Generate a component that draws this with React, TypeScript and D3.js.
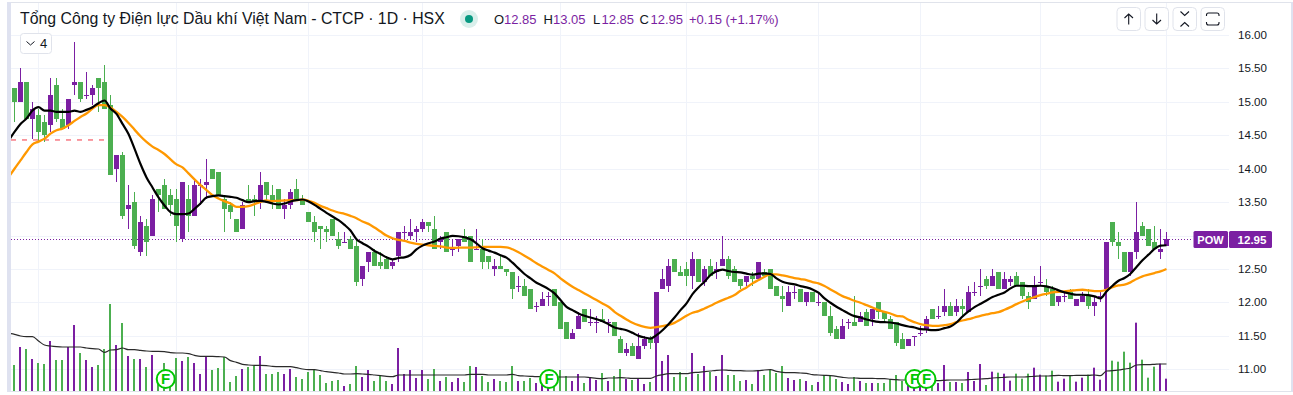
import React from "react";
import * as d3 from "d3";

const titleText = "Tổng Công ty Điện lực Dầu khí Việt Nam - CTCP · 1D · HSX";
const priceTicks = ["16.00","15.50","15.00","14.50","14.00","13.50","12.50","12.00","11.50","11.00"];
const gridPrices = [16,15.5,15,14.5,14,13.5,13,12.5,12,11.5,11];
const gridTimes = [38,176,308,422,560,686,818,920,1040,1166];
const lastPrice = 12.95;
const lastPriceLabel = "12.95";
const symbol = "POW";
const limitPrice = 14.43;
const dividendBars = [25.2,89.1,150,152];
const greenVolumeBars = [186];

const opens = [15.2,15.0,15.3,14.75,14.8,14.7,14.65,15.25,14.75,14.65,
15.25,15.3,15.1,15.1,15.35,15.3,14.95,14.0,14.2,13.4,
13.5,12.75,13.15,13.0,13.7,13.75,13.6,13.55,12.95,13.55,
13.3,13.75,13.75,14.0,13.95,13.55,13.45,13.25,13.1,13.55,
13.55,13.5,13.8,13.6,13.7,13.4,13.45,13.7,13.55,13.35,
13.2,13.15,13.1,13.25,12.95,12.9,12.95,12.85,12.35,12.6,
12.75,12.6,12.65,12.55,12.7,13.05,13.0,13.05,13.1,13.2,
13.1,12.9,13.05,12.8,12.85,13.0,13.0,12.8,12.8,12.7,
12.5,12.55,12.5,12.45,12.25,12.25,12.2,11.95,11.95,12.1,
12.2,12.0,11.7,11.45,11.6,11.9,11.7,11.7,11.75,11.7,
11.7,11.45,11.25,11.35,11.15,11.35,11.45,11.4,12.2,12.25,
12.65,12.45,12.5,12.4,12.65,12.3,12.55,12.45,12.55,12.65,
12.5,12.35,12.3,12.4,12.35,12.45,12.5,12.25,12.1,11.95,
12.15,12.2,12.0,12.15,12.0,12.0,11.8,11.6,11.45,11.7,
11.7,11.7,11.85,11.75,12.0,11.85,11.75,11.7,11.45,11.35,
11.5,11.55,11.6,11.9,11.8,11.85,11.95,11.85,11.95,11.85,
12.15,12.25,12.35,12.25,12.45,12.2,12.3,12.4,12.3,12.1,
12.05,12.3,12.25,12.2,12.0,12.1,12.15,11.95,12.0,12.1,
11.95,12.1,12.2,13.2,12.9,12.75,12.45,12.75,13.15,13.1,
12.9,12.75,12.85];

const closes = [15.0,15.3,14.75,14.9,14.55,14.5,15.1,14.75,14.6,15.05,
15.3,15.05,15.1,15.2,15.2,14.9,13.9,14.2,13.3,13.45,
12.85,13.2,12.9,13.55,13.6,13.4,13.45,13.15,13.8,13.3,
13.75,13.75,13.8,13.85,13.6,13.4,13.35,13.05,13.45,13.5,
13.5,13.75,13.6,13.5,13.4,13.45,13.65,13.55,13.45,13.2,
13.05,13.1,13.05,13.0,12.85,12.9,12.8,12.3,12.55,12.75,
12.55,12.55,12.5,12.6,13.05,13.05,13.05,13.1,13.2,13.15,
12.8,12.95,12.75,12.8,12.95,12.9,12.6,12.8,12.6,12.6,
12.55,12.5,12.45,12.2,12.25,12.1,11.9,11.95,12.05,12.1,
11.95,11.6,11.45,11.55,11.8,11.7,11.7,11.7,11.7,11.7,
11.5,11.25,11.3,11.2,11.35,11.45,11.4,12.15,12.35,12.55,
12.45,12.4,12.4,12.65,12.3,12.5,12.4,12.5,12.65,12.4,
12.3,12.25,12.4,12.35,12.6,12.4,12.2,12.1,12.05,12.15,
12.15,12.0,12.15,12.0,12.0,11.8,11.55,11.45,11.65,11.7,
11.65,11.8,11.65,11.9,11.85,11.75,11.6,11.4,11.3,11.45,
11.5,11.55,11.75,11.75,11.8,11.95,11.8,11.95,11.9,12.15,
12.15,12.25,12.25,12.4,12.2,12.35,12.35,12.25,12.1,12.0,
12.25,12.3,12.15,11.95,12.1,12.1,12.05,12.05,12.1,11.95,
12.0,12.1,12.9,12.9,12.85,12.45,12.75,13.05,13.0,12.85,
12.8,12.8,12.95];

const highs = [15.2,15.5,15.3,15.0,14.9,14.8,15.35,15.35,14.9,15.05,
15.9,15.3,15.45,15.25,15.35,15.55,15.1,14.2,14.25,13.75,
13.65,13.3,13.25,13.6,13.7,13.85,13.7,13.7,13.8,13.75,
13.85,13.85,14.15,14.0,13.95,13.6,13.5,13.25,13.5,13.75,
13.6,13.95,13.8,13.75,13.7,13.55,13.7,13.85,13.6,13.35,
13.3,13.15,13.15,13.25,13.05,13.05,13.0,12.95,12.55,12.75,
12.8,12.75,12.7,12.65,13.05,13.15,13.25,13.15,13.25,13.2,
13.3,13.0,13.05,12.95,12.95,13.1,13.0,13.1,12.95,12.7,
12.65,12.7,12.5,12.45,12.4,12.35,12.2,12.0,12.15,12.15,
12.2,12.0,11.7,11.6,11.85,11.9,11.9,11.8,11.9,11.75,
11.7,11.5,11.4,11.4,11.55,11.5,11.5,12.15,12.5,12.65,
12.65,12.55,12.6,12.75,12.65,12.55,12.65,12.6,13.0,12.7,
12.55,12.35,12.4,12.45,12.6,12.5,12.5,12.25,12.25,12.25,
12.25,12.2,12.15,12.15,12.15,12.0,11.95,11.65,11.75,11.75,
12.1,11.85,11.9,11.9,12.0,11.85,11.8,11.7,11.55,11.45,
11.5,11.65,11.8,11.9,11.95,12.2,12.0,12.05,12.05,12.25,
12.3,12.5,12.4,12.5,12.45,12.45,12.4,12.45,12.3,12.15,
12.4,12.55,12.35,12.25,12.1,12.15,12.2,12.05,12.15,12.2,
12.1,12.15,12.9,13.2,13.05,12.75,12.75,13.5,13.2,13.1,
13.15,13.1,13.05];

const lows = [14.7,15.0,14.75,14.45,14.4,14.4,14.55,14.7,14.6,14.6,
15.1,15.0,15.05,14.95,14.85,14.9,13.9,13.8,13.25,13.1,
12.8,12.7,12.7,13.0,13.35,13.4,13.3,12.9,12.9,13.05,
13.3,13.45,13.55,13.85,13.6,13.05,13.25,13.05,13.1,13.5,
13.3,13.4,13.5,13.4,13.4,13.25,13.4,13.55,13.45,13.2,
12.9,12.8,12.9,13.0,12.8,12.9,12.8,12.25,12.25,12.45,
12.55,12.5,12.5,12.5,12.6,12.95,12.95,12.9,13.05,13.05,
12.8,12.8,12.75,12.7,12.75,12.9,12.6,12.8,12.5,12.5,
12.4,12.5,12.4,12.05,12.15,12.1,11.9,11.85,11.95,11.95,
11.95,11.6,11.45,11.45,11.6,11.7,11.65,11.55,11.7,11.55,
11.5,11.25,11.2,11.2,11.15,11.3,11.3,11.4,12.2,12.15,
12.45,12.4,12.25,12.2,12.3,12.25,12.4,12.35,12.55,12.35,
12.3,12.2,12.25,12.25,12.35,12.4,12.2,12.1,11.85,11.95,
12.05,12.0,11.95,12.0,11.95,11.8,11.5,11.45,11.45,11.6,
11.65,11.7,11.65,11.65,11.75,11.7,11.6,11.35,11.3,11.35,
11.35,11.5,11.55,11.75,11.75,11.8,11.8,11.8,11.8,11.85,
12.1,12.1,12.2,12.25,12.2,12.2,12.25,12.25,12.05,11.9,
12.05,12.25,12.1,11.95,11.95,12.0,12.05,11.95,12.0,11.9,
11.8,12.0,12.1,12.85,12.65,12.45,12.4,12.65,13.0,12.85,
12.8,12.65,12.85];

const volumes = [78,132,126,96,84,81,150,93,93,132,
198,114,93,72,78,126,261,138,204,105,
96,96,72,108,50,84,40,99,90,102,
84,51,105,63,69,102,27,45,66,72,
75,105,51,51,57,51,66,42,36,57,
66,48,24,30,33,15,21,75,42,63,
30,45,30,21,129,51,63,39,63,36,
66,30,42,27,39,27,75,72,45,27,
36,30,27,75,30,30,39,24,30,30,
30,63,45,30,51,24,39,33,54,30,
45,66,36,33,36,21,27,150,90,108,
42,57,42,114,51,75,57,45,108,48,
48,30,33,21,63,48,63,54,75,39,
33,36,30,18,27,48,48,36,27,21,
42,30,24,24,24,24,36,48,30,30,
40,40,45,40,24,78,27,27,24,57,
30,81,18,58,55,52,31,52,37,52,
70,49,46,61,28,37,46,28,40,49,
70,34,305,91,88,118,85,205,94,40,
73,82,37];

// moving averages: first entry sits one bar left of the first candle
const fastAverage = [14.42,14.55,14.67,14.75,14.87,14.92,14.87,14.87,14.85,14.85,14.85,
14.87,14.85,14.88,14.92,14.98,15.02,14.9,14.82,14.67,14.52,
14.3,14.07,13.87,13.72,13.57,13.45,13.35,13.32,13.32,13.33,
13.4,13.48,13.57,13.59,13.6,13.59,13.58,13.565,13.53,13.5,
13.515,13.52,13.505,13.48,13.465,13.48,13.51,13.53,13.54,13.51,
13.46,13.4,13.34,13.285,13.23,13.16,13.075,12.945,12.885,12.835,
12.77,12.725,12.675,12.645,12.665,12.675,12.71,12.795,12.85,12.885,
12.91,12.955,12.975,12.995,12.99,12.975,12.945,12.885,12.81,12.775,
12.745,12.705,12.67,12.595,12.51,12.425,12.36,12.295,12.25,12.2,
12.135,12.035,11.935,11.885,11.835,11.8,11.775,11.75,11.72,11.675,
11.625,11.605,11.585,11.545,11.5,11.475,11.46,11.51,11.585,11.675,
11.775,11.885,11.985,12.125,12.225,12.31,12.41,12.465,12.49,12.47,
12.455,12.45,12.43,12.415,12.43,12.435,12.425,12.36,12.31,12.285,
12.27,12.245,12.225,12.195,12.145,12.06,11.995,11.935,11.885,11.835,
11.795,11.775,11.745,11.725,11.71,11.705,11.7,11.685,11.66,11.64,
11.625,11.6,11.595,11.585,11.59,11.615,11.64,11.7,11.79,11.865,
11.93,11.98,12.03,12.08,12.115,12.15,12.21,12.25,12.25,12.245,
12.245,12.25,12.24,12.215,12.18,12.15,12.13,12.115,12.115,12.11,
12.09,12.06,12.165,12.25,12.325,12.365,12.43,12.53,12.63,12.715,
12.8,12.85,12.855];

const slowAverage = [13.87,14.0,14.125,14.25,14.365,14.405,14.45,14.525,14.575,14.6,14.65,
14.715,14.775,14.825,14.9,14.95,14.95,14.915,14.85,14.775,14.685,
14.585,14.485,14.4,14.33,14.28,14.22,14.14,14.065,14.02,13.93,
13.84,13.755,13.68,13.605,13.555,13.515,13.48,13.43,13.43,13.44,
13.47,13.505,13.525,13.515,13.52,13.525,13.53,13.53,13.54,13.52,
13.49,13.445,13.41,13.375,13.345,13.325,13.295,13.26,13.21,13.175,
13.12,13.06,13.0,12.96,12.935,12.92,12.895,12.875,12.865,12.855,
12.845,12.84,12.82,12.815,12.82,12.82,12.82,12.825,12.83,12.83,
12.83,12.83,12.825,12.795,12.75,12.7,12.645,12.585,12.535,12.485,
12.435,12.36,12.295,12.235,12.185,12.135,12.085,12.035,11.985,11.935,
11.86,11.8,11.745,11.695,11.66,11.635,11.62,11.63,11.645,11.665,
11.695,11.745,11.8,11.845,11.87,11.91,11.95,11.995,12.035,12.07,
12.11,12.175,12.225,12.285,12.335,12.385,12.42,12.42,12.405,12.385,
12.365,12.35,12.335,12.305,12.285,12.245,12.195,12.145,12.095,12.06,
12.025,11.995,11.96,11.925,11.885,11.86,11.835,11.8,11.79,11.74,
11.705,11.675,11.66,11.65,11.65,11.66,11.675,11.705,11.73,11.75,
11.775,11.8,11.82,11.84,11.855,11.89,11.93,11.975,12.015,12.05,
12.08,12.11,12.13,12.15,12.16,12.165,12.175,12.185,12.19,12.18,
12.17,12.17,12.19,12.23,12.255,12.265,12.3,12.35,12.39,12.415,
12.44,12.465,12.5];

const volumeAverage = [173,170,165,163,163,150,138,135,133,132,132,
132,132,129,127,126,116,123,124,129,124,
124,122,120,119,119,118,115,114,114,112,
107,104,104,104,103,102,91,86,80,78,
77,77,76,74,73,73,73,70,66,64,
64,61,58,56,54,51,51,52,51,50,
48,46,44,43,48,48,48,48,48,48,
48,48,48,48,48,48,50,50,50,48,
48,48,48,50,46,45,44,43,43,42,
42,42,42,42,42,42,40,38,37,39,
39,40,39,38,38,38,38,45,49,52,
52,52,52,55,56,58,60,62,63,62,
61,61,60,60,61,63,64,59,56,55,
55,54,53,49,48,47,46,44,41,39,
39,38,38,38,37,37,35,34,33,33,
33,32,32,31,31,32,33,33,33,34,
35,36,37,39,40,41,42,42,42,43,
44,45,45,46,47,46,46,47,47,47,
48,46,60,61,63,66,69,78,79,79,
80,81,81];

const ohlcLegend = [
  { key: "O", value: "12.85", keyX: 494, valueX: 504 },
  { key: "H", value: "13.05", keyX: 543.5, valueX: 553 },
  { key: "L", value: "12.85", keyX: 593, valueX: 601.5 },
  { key: "C", value: "12.95", keyX: 639.5, valueX: 650.5 },
];
const changeText = "+0.15 (+1.17%)";

const UP = "#7b1fa2";
const DOWN = "#4caf50";
const GRID = "#f0f3fa";
const BORDER = "#e0e3eb";
const TEXT = "#131722";
const FONT = "'Liberation Sans', Arial, sans-serif";

const x = d3.scaleLinear().domain([0, 192]).range([14.5, 1166.5]);
const y = d3.scaleLinear().domain([11, 16]).range([369.3, 35]);
const vy = d3.scaleLinear().domain([0, 330]).range([391, 281]);

const maPath = (values: number[], scale: (v: number) => number) =>
  d3.line<number>()
    .x((_, i) => x(i - 1))
    .y((v) => scale(v))
    .curve(d3.curveMonotoneX)(values) as string;

const Btn = ({ x: bx, children }: { x: number; children?: React.ReactNode }) => (
  <g transform={`translate(${bx},7.5)`}>
    <rect width={23.5} height={23} rx={4} fill="#fff" stroke={BORDER} />
    <g fill="none" stroke={TEXT} strokeWidth={1.1}>{children}</g>
  </g>
);

const FBadge = ({ i }: { i: number }) => (
  <g transform={`translate(${x(i)},379)`}>
    <circle r={9} fill="#fff" stroke="#00c800" strokeWidth={2} />
    <text textAnchor="middle" y={5.3} fontSize={15} fontWeight={700} fill="#00c800" fontFamily={FONT}>F</text>
  </g>
);

export default function App() {
  const candles = opens.map((o, i) => ({ o, c: closes[i], h: highs[i], l: lows[i], v: volumes[i], i }));
  const isUp = (d: { o: number; c: number }) => d.c >= d.o;
  return (
    <svg width={1293} height={395} style={{ position: "absolute", left: 0, top: 0, display: "block", background: "#fff" }} fontFamily={FONT}>
      <defs>
        <clipPath id="plot"><rect x={11} y={3} width={1218} height={388} /></clipPath>
      </defs>
      {/* frame */}
      <rect x={7} y={2} width={4} height={390} fill="#dfe2f0" />
      <rect x={11} y={2} width={1282} height={1} fill={BORDER} />
      <rect x={11} y={391} width={1282} height={1} fill={BORDER} />
      <rect x={1291} y={2} width={2} height={390} fill="#dfe2f0" />

      {/* grid */}
      {gridPrices.map((p) => (
        <rect key={p} x={11} y={Math.round(y(p))} width={1218} height={1} fill={GRID} />
      ))}
      {gridTimes.map((t) => (
        <rect key={t} x={t} y={3} width={1} height={388} fill={GRID} />
      ))}

      {/* volume */}
      {candles.map((d) => (
        <rect key={d.i} x={Math.floor(x(d.i)) - 1} y={vy(d.v)} width={2} height={391 - vy(d.v)}
          fill={isUp(d) && !greenVolumeBars.includes(d.i) ? UP : DOWN} />
      ))}
      <path d={maPath(volumeAverage, vy)} fill="none" stroke="#2b2b2b" strokeWidth={1.2} clipPath="url(#plot)" />

      {/* limit and last price lines */}
      <line x1={11} x2={104} y1={y(limitPrice)} y2={y(limitPrice)} stroke="#f23645" strokeDasharray="5 6" />
      <line x1={11} x2={1193} y1={Math.round(y(lastPrice)) + 0.5} y2={Math.round(y(lastPrice)) + 0.5} stroke={UP} strokeDasharray="1 2" />

      {/* candles */}
      {candles.map((d) => {
        const top = Math.round(y(Math.max(d.o, d.c)));
        const bottom = Math.round(y(Math.min(d.o, d.c)));
        const col = isUp(d) ? UP : DOWN;
        return (
          <g key={d.i} fill={col}>
            <rect x={x(d.i) - 0.5} y={Math.round(y(d.h))} width={1} height={Math.max(1, Math.round(y(d.l)) - Math.round(y(d.h)))} />
            <rect x={x(d.i) - 2.5} y={top} width={5} height={Math.max(1, bottom - top)} />
          </g>
        );
      })}

      {/* averages */}
      <g clipPath="url(#plot)" fill="none" strokeLinejoin="round">
        <path d={maPath(slowAverage, y)} stroke="#ff9800" strokeWidth={2.3} />
        <path d={maPath(fastAverage, y)} stroke="#000" strokeWidth={2.2} />
      </g>

      {/* dividend markers */}
      {dividendBars.map((i) => <FBadge key={i} i={i} />)}

      {/* price axis */}
      {priceTicks.map((t) => (
        <text key={t} x={1238} y={y(+t) + 4} fontSize={11.6} fill={TEXT}>{t}</text>
      ))}

      {/* last price badges */}
      <rect x={1193.5} y={231} width={34.5} height={17} rx={1.5} fill={UP} />
      <rect x={1229} y={231} width={43} height={17} rx={1.5} fill={UP} />
      <text x={1210.5} y={243.5} fontSize={11} fontWeight={700} fill="#fff" textAnchor="middle">{symbol}</text>
      <text x={1252} y={243.5} fontSize={11.6} fontWeight={700} fill="#fff" textAnchor="middle">{lastPriceLabel}</text>

      {/* header */}
      <text x={20} y={23.5} fontSize={15.85} fill={TEXT}>{titleText}</text>
      <circle cx={469} cy={19} r={9} fill="#d9efeb" />
      <circle cx={469} cy={19} r={4} fill="#089981" />
      {ohlcLegend.map((o) => (
        <g key={o.key}>
          <text x={o.keyX} y={24} fontSize={13} fill={TEXT}>{o.key}</text>
          <text x={o.valueX} y={24} fontSize={13} fill={UP}>{o.value}</text>
        </g>
      ))}
      <text x={689} y={24} fontSize={13} fill={UP}>{changeText}</text>

      {/* collapse button */}
      <rect x={20.5} y={33.5} width={31} height={20} rx={3} fill="#fff" stroke={BORDER} />
      <path d="M26.5 41.5 L30.5 45 L34.5 41.5" fill="none" stroke={TEXT} strokeWidth={1} />
      <text x={40} y={48} fontSize={13} fill={TEXT}>4</text>

      {/* toolbar */}
      <Btn x={1117}><path d="M11.7 17 V6.5 M7.5 10.5 L11.7 6.5 L16 10.5" /></Btn>
      <Btn x={1145}><path d="M11.7 6 V16.5 M7.5 12.5 L11.7 16.5 L16 12.5" /></Btn>
      <Btn x={1173}><path d="M7.5 4 L11.7 8 L16 4 M7.5 19 L11.7 15 L16 19" /></Btn>
      <Btn x={1201}><path d="M7.5 5.5 H16 Q18 5.5 18 7.5 V8.5 M5.5 8.5 V7.5 Q5.5 5.5 7.5 5.5 M7.5 17.5 H16 Q18 17.5 18 15.5 V14.5 M5.5 14.5 V15.5 Q5.5 17.5 7.5 17.5" /></Btn>
    </svg>
  );
}
